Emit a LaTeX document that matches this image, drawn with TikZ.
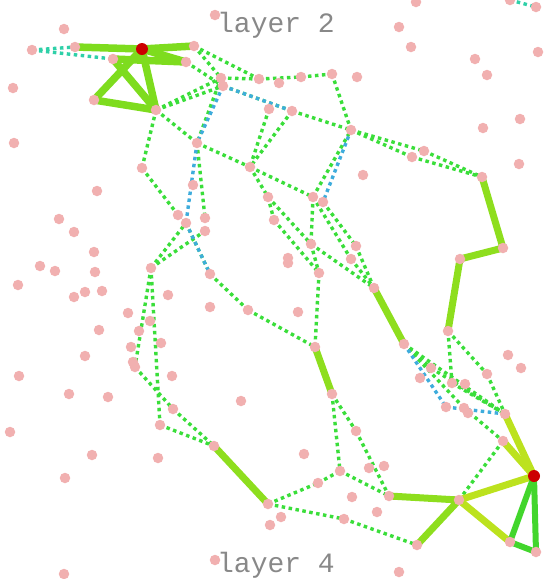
\documentclass[tikz,border=0pt]{standalone}
\usepackage{fontspec}
\setmonofont{Liberation Mono}
\definecolor{dotpink}{RGB}{241,176,176}
\definecolor{redc}{RGB}{204,0,0}
\definecolor{limeA}{RGB}{126,220,30}
\definecolor{limeB}{RGB}{142,222,30}
\definecolor{yelg}{RGB}{188,226,30}
\definecolor{brg}{RGB}{66,214,44}
\definecolor{gdot}{RGB}{58,222,58}
\definecolor{tealc}{RGB}{46,208,168}
\definecolor{bluec}{RGB}{62,172,220}
\definecolor{lblc}{RGB}{136,136,136}
\tikzset{
  pdot/.style={circle,fill=dotpink,inner sep=0pt,minimum size=10.5pt},
  rdot/.style={circle,fill=redc,inner sep=0pt,minimum size=12pt},
  thkA/.style={line width=7.5pt,draw=limeA},
  thkB/.style={line width=7pt,draw=limeB},
  thkY/.style={line width=7pt,draw=yelg},
  thkG/.style={line width=6pt,draw=brg},
  gline/.style={line width=3.4pt,draw=gdot,dash pattern=on 3.5pt off 3.5pt},
  tline/.style={line width=3.4pt,draw=tealc,dash pattern=on 3.5pt off 3.5pt},
  bline/.style={line width=3.4pt,draw=bluec,dash pattern=on 3.5pt off 3.5pt},
  lbl/.style={font=\ttfamily\fontsize{28}{30}\selectfont,text=lblc,inner sep=0pt}
}
\begin{document}
\begin{tikzpicture}[x=1pt,y=-1pt]
\useasboundingbox (0,0) rectangle (549,579);
% named points
\foreach \n/\x/\y in {t1/32/50,t2/75/47,R1/142/49,t3/194/46,t4/113/59,t5/186/62,t6/94/100,t7/156/110,
 m1/221/78,m2/223/86,m3/259/79,m5/301/77,m6/332/74,m8/269/109,m9/292/111,m10/351/130,m11/412/157,m12/424/151,m13/482/177,m14/503/248,m15/460/259,m16/448/331,
 c1/197/143,c2/250/167,c3/268/197,c4/313/197,c5/323/202,c6/274/220,c7/311/244,c8/356/246,c9/351/259,c10/319/273,c11/374/288,c12/404/344,c13/315/347,c14/332/394,
 c16/205/218,c17/205/231,c18/186/223,c19/178/215,c20/210/274,c21/142/168,c22/151/268,c23/248/310,c24/135/367,c25/160/425,c26/173/409,c27/214/446,c28/268/504,
 c29/318/483,c30/340/471,c31/344/519,c32/356/431,c33/389/496,c34/417/545,c35/459/500,c36/503/441,c37/505/414,R2/534/476,c38/510/542,c39/536/552,
 c40/446/407,c41/464/408,c42/452/383,c43/487/374,c44/431/368,e1/510/0,e2/536/7,
 i1/64/29,i2/215/15,i3/399/27,i4/416/2,i5/411/47,i6/475/59,i7/487/75,i8/538/52,i9/520/119,i10/483/128,i11/519/164,i12/363/175,i13/13/88,i14/14/143,
 i15/97/191,i16/59/219,i17/74/232,i18/94/252,i19/40/266,i20/55/271,i21/95/272,i22/18/285,i23/85/292,i24/102/291,i25/74/297,i26/168/295,i27/128/313,
 i28/150/321,i29/99/330,i30/139/331,i31/161/343,i32/85/356,i33/133/362,i34/172/376,i35/19/376,i36/69/394,i37/108/397,i38/10/432,i39/92/455,i40/158/458,
 i41/65/478,i42/64/574,i43/210/307,i44/298/312,i45/241/401,i46/304/454,i47/215/560,i48/281/517,i49/270/525,i50/352/497,i51/369/468,i52/384/466,
 i53/377/512,i54/399/572,i55/468/413,i56/465/384,i57/508/355,i58/521/368,i59/420/378,i60/288/258,i61/288/263,i62/193/185,i63/279/83,i64/357/77,i65/131/347}
 {\coordinate (\n) at (\x,\y);}
% dotted green connectors
\foreach \a/\b in {t3/m1,t3/m3,t5/m2,t7/m1,t7/m2,m1/m3,m3/m5,m5/m6,m6/m10,m2/m9,m9/m10,m10/m12,m12/m13,m10/m11,m11/m13,
 t7/c1,t7/c21,m1/c1,c1/c2,c1/c16,m8/c2,m9/c2,c2/c3,c2/c4,c4/m10,c4/c7,c3/c7,c3/c6,c6/c10,c7/c10,c10/c13,c4/c9,c9/c11,c7/c11,c5/c8,c8/c11,
 c21/c19,c22/c18,c22/c17,c22/c24,c22/c25,c24/c26,c26/c27,c25/c27,c18/c20,c20/c23,c23/c13,c14/c32,c14/c30,c28/c29,c29/c30,c28/c31,c31/c34,
 c30/c33,c32/c33,c35/c36,c12/c37,c12/c41,c12/c44,c44/c37,m16/c42,c42/c37,m16/c43,c43/c37,c41/c36}
 {\draw[gline] (\a) -- (\b);}
% dotted blue connectors
\foreach \a/\b in {m2/c1,c1/c18,c18/c20,m2/m9,m10/c5,c12/c40,c40/c37}
 {\draw[bline] (\a) -- (\b);}
% dotted teal connectors
\foreach \a/\b in {t1/t2,t1/t4,e1/e2}
 {\draw[tline] (\a) -- (\b);}
% thick connectors
\foreach \a/\b in {t2/R1,R1/t3,R1/t5,t4/t5,t4/t7,t6/R1,t6/t7,R1/t7}
 {\draw[thkA] (\a) -- (\b);}
\foreach \a/\b in {m13/m14,m14/m15,m15/m16,c11/c12,c13/c14,c27/c28,c33/c35,c35/c34}
 {\draw[thkB] (\a) -- (\b);}
\foreach \a/\b in {c37/R2,c36/R2,c35/R2,c35/c38}
 {\draw[thkY] (\a) -- (\b);}
\foreach \a/\b in {c38/R2,c38/c39,c39/R2}
 {\draw[thkG] (\a) -- (\b);}
% dots
\foreach \n in {t1,t2,t3,t4,t5,t6,t7,m1,m2,m3,m5,m6,m8,m9,m10,m11,m12,m13,m14,m15,m16,
 c1,c2,c3,c4,c5,c6,c7,c8,c9,c10,c11,c12,c13,c14,c16,c17,c18,c19,c20,c21,c22,c23,c24,c25,c26,c27,c28,
 c29,c30,c31,c32,c33,c34,c35,c36,c37,c38,c39,c40,c41,c42,c43,c44,e1,e2,
 i1,i2,i3,i4,i5,i6,i7,i8,i9,i10,i11,i12,i13,i14,i15,i16,i17,i18,i19,i20,i21,i22,i23,i24,i25,i26,i27,i28,i29,i30,
 i31,i32,i33,i34,i35,i36,i37,i38,i39,i40,i41,i42,i43,i44,i45,i46,i47,i48,i49,i50,i51,i52,i53,i54,i55,i56,i57,i58,i59,i60,
 i61,i62,i63,i64,i65}
 {\node[pdot] (d\n) at (\n) {};}
\node[rdot] (dR1) at (R1) {};
\node[rdot] (dR2) at (R2) {};
% labels
\node[lbl,anchor=base] (L2) at (276,32) {layer 2};
\node[lbl,anchor=base] (L4) at (276,572) {layer 4};
\end{tikzpicture}
\end{document}
